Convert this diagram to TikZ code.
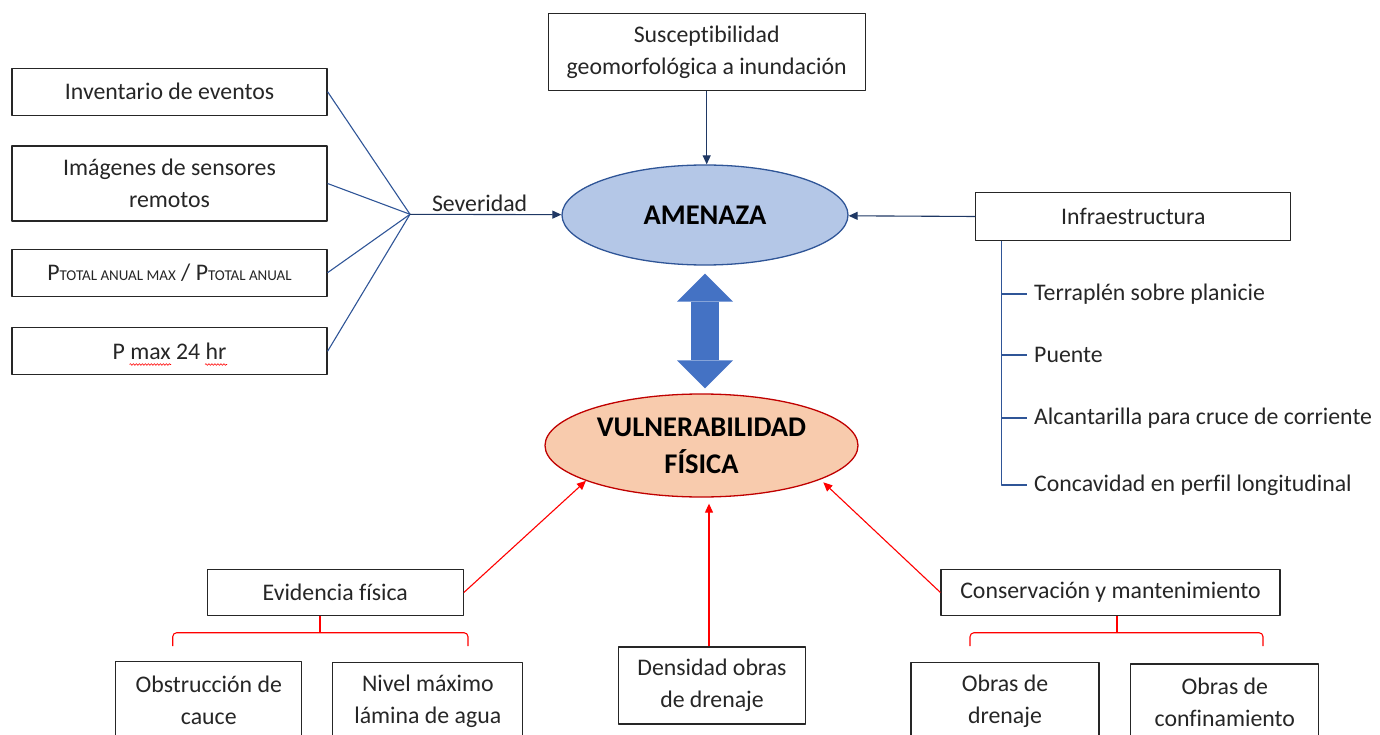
\documentclass[tikz,border=0pt]{standalone}
\usepackage{fontspec}
\setmainfont{Carlito}[Ligatures=NoCommon]
\usetikzlibrary{arrows.meta,shapes.geometric,decorations.pathmorphing}
\definecolor{azul}{HTML}{2F5597}
\definecolor{marino}{HTML}{1F3864}
\definecolor{celeste}{HTML}{B4C7E7}
\definecolor{salmon}{HTML}{F8CBAD}
\definecolor{granate}{HTML}{C00000}
\definecolor{bloque}{HTML}{4472C4}
\definecolor{texto}{HTML}{262626}
\begin{document}
\begin{tikzpicture}[x=1pt, y=-1pt, line join=round,
    caja/.style={draw=black!85, line width=1.1pt, fill=white, text=texto, inner sep=0pt,
      align=center, font=\fontsize{23.8}{32}\selectfont},
    hoja/.style={anchor=west, inner xsep=7pt, inner ysep=0pt, text=texto,
      font=\fontsize{23.8}{32}\selectfont},
    nucleo/.style={ellipse, inner sep=0pt, line width=1.3pt, align=center,
      font=\bfseries\fontsize{28.5}{37}\selectfont},
    flecha/.style={line width=1.1pt, -{Triangle[length=9pt, width=8pt]}},
    llave/.style={red, line width=1.1pt, rounded corners=4pt}]
  \useasboundingbox (0,0) rectangle (1380,735);
  \clip (0,0) rectangle (1380,735);
  % amenaza
  \node[nucleo, draw=azul, fill=celeste, minimum width=286pt, minimum height=100pt] (amen) at (705,215) {AMENAZA};
  \node[caja, minimum width=317pt, minimum height=77pt] (susc) at (706.7,52) {Susceptibilidad\\geomorfológica a inundación};
  \draw[flecha, marino] (susc.south) -- (susc.south |- amen.north);
  \node[caja, minimum width=315pt, minimum height=47pt] (inv) at (169.5,91.7) {Inventario de eventos};
  \node[caja, minimum width=315pt, minimum height=75pt] (img) at (169.5,183.5) {Imágenes de sensores\\remotos};
  \node[caja, minimum width=315pt, minimum height=47pt] (ptot) at (169.5,272.7)
    {P{\fontsize{15}{18}\selectfont TOTAL ANUAL MAX} / P{\fontsize{15}{18}\selectfont TOTAL ANUAL}};
  \node[caja, minimum width=315pt, minimum height=47pt] (pmax) at (169.5,351.3) {P max 24 hr};
  \draw[red, line width=0.6pt, decorate, decoration={snake, amplitude=0.8pt, segment length=3pt}] (129.5,364.5) -- (171,364.5);
  \draw[red, line width=0.6pt, decorate, decoration={snake, amplitude=0.8pt, segment length=3pt}] (205,364.5) -- (227,364.5);
  \coordinate (fan) at (410,214.3);
  \foreach \q in {inv,img,ptot,pmax} \draw[azul, line width=1.1pt] (\q.east) -- (fan);
  \draw[flecha, marino] (fan) -- (amen)
    node[pos=0.46, above=0pt, inner sep=2pt, text=texto, font=\fontsize{23.8}{32}\selectfont] (sev) {Severidad};
  % infraestructura
  \node[caja, minimum width=315pt, minimum height=48pt] (infra) at (1133.3,216.5) {Infraestructura};
  \draw[flecha, marino] (infra.west) -- (amen);
  \coordinate (tronco) at (1001.5,240.7);
  \node[hoja] (t1) at (1027,294) {Terraplén sobre planicie};
  \node[hoja] (t2) at (1027,355) {Puente};
  \node[hoja] (t3) at (1027,418) {Alcantarilla para cruce de corriente};
  \node[hoja] (t4) at (1027,485) {Concavidad en perfil longitudinal};
  \draw[azul, line width=1.1pt] (tronco) |- (t4.west);
  \foreach \q in {t1,t2,t3} \draw[azul, line width=1.1pt] (tronco |- \q.west) -- (\q.west);
  % vulnerabilidad
  \node[nucleo, draw=granate, fill=salmon, minimum width=313pt, minimum height=103pt] (vuln) at (701.5,445.5) {VULNERABILIDAD\\FÍSICA};
  \draw[bloque, line width=28pt,
    {Triangle[length=28pt, width=56pt, line width=0pt]}-{Triangle[length=28pt, width=56pt, line width=0pt]},
    shorten <=8pt, shorten >=5pt] (amen.south) -- (amen.south |- vuln.north);
  \node[caja, minimum width=256pt, minimum height=46.5pt] (evid) at (335.3,592.5) {Evidencia física};
  \node[caja, minimum width=187pt, minimum height=77pt] (dens) at (712,685.5) {Densidad obras\\de drenaje};
  \node[caja, minimum width=339pt, minimum height=46.5pt] (cons) at (1110.5,592.5) {Conservación y mantenimiento};
  \draw[flecha, red] (evid.east) -- (vuln.197);
  \draw[flecha, red, shorten >=6pt] ([xshift=-3pt]dens.north) -- ([xshift=-3pt]dens.north |- vuln.south);
  \draw[flecha, red, shorten >=4pt] (cons.west) -- (vuln.344);
  % llaves y cajas inferiores
  \draw[llave] ([xshift=-15.3pt]evid.south) -- ++(0,16.5);
  \draw[llave] (172.7,646) |- (468,632.7) -- (468,646);
  \draw[llave] ([xshift=6.5pt]cons.south) -- ++(0,16.5);
  \draw[llave] (970,646) |- (1263,632.7) -- (1263,646);
  \node[caja, minimum width=186pt, minimum height=77pt] (obst) at (208.8,700.3) {Obstrucción de\\cauce};
  \node[caja, minimum width=190pt, minimum height=77pt] (nivel) at (427.8,701.3) {Nivel máximo\\lámina de agua};
  \node[caja, minimum width=188pt, minimum height=77pt] (dren) at (1005,701.3) {Obras de\\drenaje};
  \node[caja, minimum width=188pt, minimum height=77pt] (conf) at (1224.8,702.5) {Obras de\\confinamiento};
\end{tikzpicture}
\end{document}
